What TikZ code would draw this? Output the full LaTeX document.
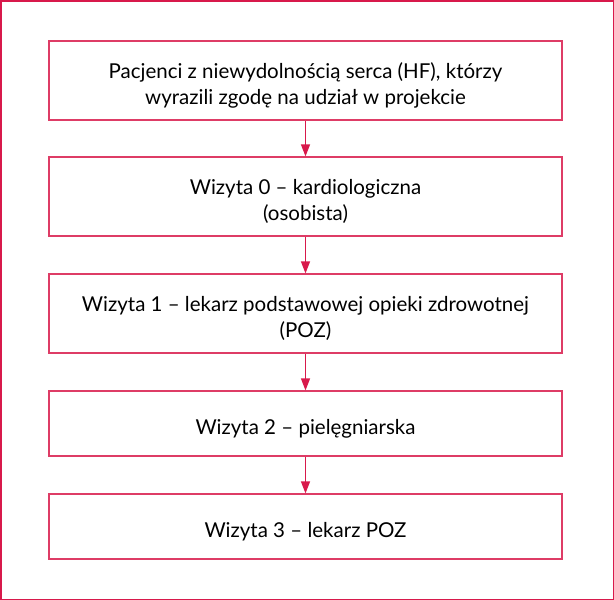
\documentclass[tikz,border=0pt]{standalone}
\usepackage{fontspec}
\setmainfont{Lato}
\usetikzlibrary{arrows.meta}
\definecolor{crim}{HTML}{D8194B}
\begin{document}
\begin{tikzpicture}[x=1pt,y=-1pt,
  box/.style={draw=crim!85,line width=1.2pt,minimum width=513pt,inner sep=0pt},
  txt/.style={align=center,font=\fontsize{20.5}{26}\selectfont,inner sep=0pt,yshift=-5pt},
  arr/.style={crim,line width=1.2pt,-{Triangle[length=12pt,width=9pt]}}]
\draw[crim,line width=1.5pt] (0.75,0.75) rectangle (613.25,599.25);
\node[box,minimum height=79pt] (b1) at (305.5,80.5) {};
\node[box,minimum height=79pt] (b2) at (305.5,196.5) {};
\node[box,minimum height=79pt] (b3) at (305.5,313.5) {};
\node[box,minimum height=65pt] (b4) at (305.5,423.5) {};
\node[box,minimum height=65pt] (b5) at (305.5,526.5) {};
\node[txt] (t1) at (b1) {Pacjenci z niewydolnością serca (HF), którzy\\wyrazili zgodę na udział w projekcie};
\node[txt] (t2) at (b2) {Wizyta 0 – kardiologiczna\\(osobista)};
\node[txt] (t3) at (b3) {Wizyta 1 – lekarz podstawowej opieki zdrowotnej\\(POZ)};
\node[txt] (t4) at (b4) {Wizyta 2 – pielęgniarska};
\node[txt] (t5) at (b5) {Wizyta 3 – lekarz POZ};
\foreach \a/\b in {b1/b2,b2/b3,b3/b4,b4/b5} \draw[arr] (\a) -- (\b);
\end{tikzpicture}
\end{document}
